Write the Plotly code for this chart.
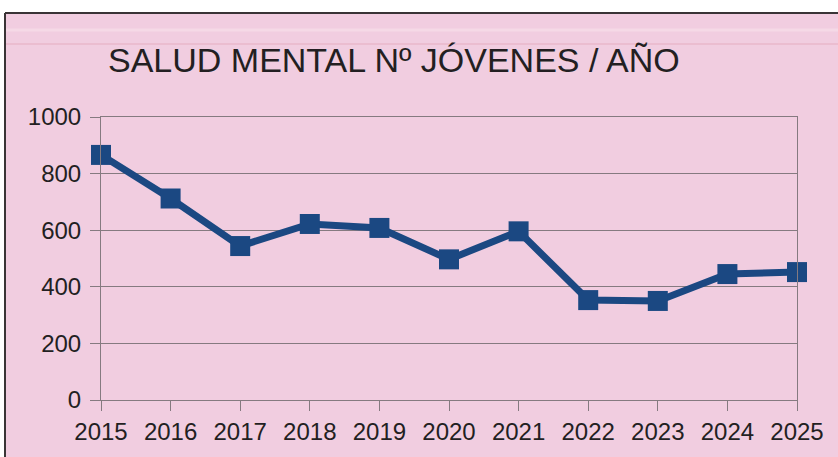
import plotly.graph_objects as go

years = [2015, 2016, 2017, 2018, 2019, 2020, 2021, 2022, 2023, 2024, 2025]
jovenes = [866, 712, 544, 622, 608, 497, 596, 353, 350, 445, 452]
y_ticks = [0, 200, 400, 600, 800, 1000]
title_text = "SALUD MENTAL Nº JÓVENES / AÑO"

W, H = 838, 457
L, R, T, B = 101, 41, 117, 57
pw, ph = W - L - R, H - T - B

def px(x):  # page pixel -> paper
    return (x - L) / pw

def py(y):
    return (H - B - y) / ph

PINK = "#f1cde0"
NAVY = "#1b4882"
GRID = "#857a80"
TEXT = "#231f22"
FONT = "Liberation Sans, Arial, sans-serif"

fig = go.Figure()
fig.add_trace(go.Scatter(
    x=years, y=jovenes, mode="lines+markers",
    line=dict(color=NAVY, width=7),
    marker=dict(symbol="square", size=20, color=NAVY),
    cliponaxis=False, showlegend=False, hoverinfo="skip",
))

shapes = [
    dict(type="rect", xref="paper", yref="paper", layer="below",
         x0=px(5), x1=px(860), y0=py(480), y1=py(13),
         fillcolor=PINK, line=dict(width=0)),
    dict(type="line", xref="paper", yref="paper", layer="below",
         x0=px(5), x1=px(860), y0=py(13), y1=py(13),
         line=dict(color="#3a3436", width=2)),
    dict(type="line", xref="paper", yref="paper", layer="below",
         x0=px(5), x1=px(5), y0=py(13), y1=py(480),
         line=dict(color="#3a3436", width=2)),
    dict(type="line", xref="paper", yref="paper", layer="below",
         x0=px(6), x1=px(860), y0=py(44), y1=py(44),
         line=dict(color="#ebbdd0", width=2)),
    dict(type="line", xref="paper", yref="paper", layer="below",
         x0=px(6), x1=px(860), y0=py(30), y1=py(30),
         line=dict(color="#f5d9e6", width=3)),
]

fig.update_layout(
    width=W, height=H,
    margin=dict(l=L, r=R, t=T, b=B, autoexpand=False),
    paper_bgcolor="white",
    plot_bgcolor="rgba(0,0,0,0)",
    font=dict(family=FONT, color=TEXT, size=24),
    title=dict(text=title_text, xref="container", yref="container",
               x=108 / W, xanchor="left", y=1 - 60 / H,
               yanchor="middle",
               font=dict(family=FONT, size=34, color=TEXT)),
    shapes=shapes,
    xaxis=dict(range=[2015, 2025], tickmode="array", tickvals=years,
               ticktext=[str(y) for y in years],
               showgrid=False, zeroline=False,
               showline=True, linecolor=GRID, linewidth=1, mirror=True,
               ticks="outside", ticklen=10, tickcolor=GRID, tickwidth=1,
               tickfont=dict(size=24, color=TEXT)),
    yaxis=dict(range=[0, 1000], tickmode="array", tickvals=y_ticks,
               showgrid=True, gridcolor=GRID, gridwidth=1, zeroline=False,
               showline=True, linecolor=GRID, linewidth=1, mirror=True,
               ticks="outside", ticklen=10, tickcolor=GRID, tickwidth=1,
               ticklabelstandoff=4,
               tickfont=dict(size=24, color=TEXT)),
)

fig.write_html(
    "out.html",
    config={"displayModeBar": False, "staticPlot": True},
    post_script="document.body.style.margin='0px';document.body.style.overflow='hidden';",
)
